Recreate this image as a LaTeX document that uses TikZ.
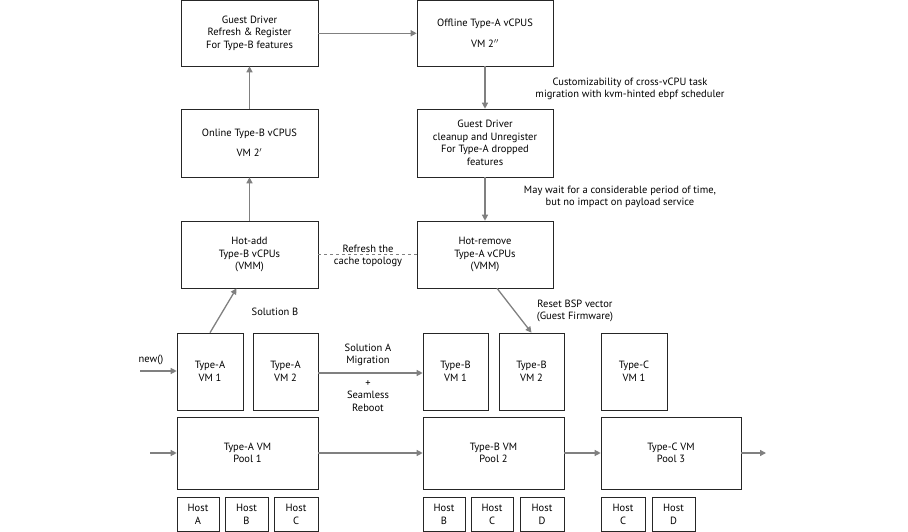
\documentclass[tikz,border=0pt]{standalone}
\usepackage{fontspec}
\setmainfont{PT Sans}
\usetikzlibrary{arrows.meta}
\begin{document}
\begin{tikzpicture}[x=1pt,y=-1pt,
  box/.style={draw=black!85,line width=0.6pt,align=center,font=\fontsize{10.5}{12.5}\selectfont,inner sep=1pt},
  arr/.style={draw=black!50,line width=1.3pt,-{Triangle[length=6pt,width=6pt]}},
  lab/.style={align=center,font=\fontsize{10.5}{12.5}\selectfont,inner sep=0pt}]
\useasboundingbox (0,0) rectangle (908,532);
\newcommand{\bx}[6]{\node[box,minimum width=#4-#2,minimum height=#5-#3] (#1) at ({(#2+#4)/2},{(#3+#5)/2}) {#6};}
\bx{gdr}{181}{0.5}{318}{66}{Guest Driver\\Refresh \& Register\\For Type-B features}
\bx{off}{417}{0.5}{553}{66}{Offline Type-A vCPUS\\[8pt]VM 2$''$}
\bx{onl}{181}{109}{318}{177}{Online Type-B vCPUS\\[8pt]VM 2$'$}
\bx{gdc}{417}{109}{553}{177}{Guest Driver\\cleanup and Unregister\\For Type-A dropped\\features}
\bx{add}{181}{221}{318}{288}{Hot-add\\Type-B vCPUs\\(VMM)}
\bx{rem}{417}{221}{553}{288}{Hot-remove\\Type-A vCPUs\\(VMM)}
\bx{a1}{177}{333}{243}{410}{Type-A\\VM 1}
\bx{a2}{253}{333}{318}{410}{Type-A\\VM 2}
\bx{b1}{423}{333}{488}{410}{Type-B\\VM 1}
\bx{b2}{499}{333}{564}{410}{Type-B\\VM 2}
\bx{c1}{601}{333}{667}{410}{Type-C\\VM 1}
\bx{p1}{177}{417}{318}{489}{Type-A VM\\Pool 1}
\bx{p2}{423}{417}{564}{489}{Type-B VM\\Pool 2}
\bx{p3}{601}{417}{741}{489}{Type-C VM\\Pool 3}
\bx{ha}{177}{497}{219}{531.5}{Host\\A}
\bx{hb}{225}{497}{268}{531.5}{Host\\B}
\bx{hc}{274}{497}{318}{531.5}{Host\\C}
\bx{hb2}{423}{497}{465}{531.5}{Host\\B}
\bx{hc2}{471}{497}{513}{531.5}{Host\\C}
\bx{hd2}{520}{497}{564}{531.5}{Host\\D}
\bx{hc3}{601}{497}{645}{531.5}{Host\\C}
\bx{hd3}{652}{497}{695}{531.5}{Host\\D}
\draw[arr] (gdr) -- (off);
\draw[arr] (off) -- (gdc);
\draw[arr] (gdc) -- (rem);
\draw[arr] (add) -- (onl);
\draw[arr] (onl) -- (gdr);
\draw[black!50,line width=1pt,dashed] (add) -- (rem);
\node[lab] at (368,256) {Refresh the\\cache topology};
\node[lab] at (630,89) {Customizability of cross-vCPU task\\migration with kvm-hinted ebpf scheduler};
\node[lab] at (620,197) {May wait for a considerable period of time,\\but no impact on payload service};
\draw[arr] ([xshift=12pt]rem.south) -- (b2.north);
\node[lab] at (575,311) {Reset BSP vector\\(Guest Firmware)};
\draw[arr] (a1.north) -- ([xshift=-13pt]add.south);
\node[lab] at (275,312) {Solution B};
\coordinate (nw) at (140,371);
\draw[arr] (nw) -- (nw-|a1.west);
\node[lab] at (151,360) {new()};
\draw[arr] (a2.east|-0,373) -- (b1.west|-0,373);
\node[lab] at (368,355) {Solution A\\Migration};
\node[lab] at (368,396) {+\\Seamless\\Reboot};
\coordinate (pin) at (150,453);
\coordinate (pout) at (766,453);
\draw[arr] (pin) -- (p1);
\draw[arr] (p1) -- (p2);
\draw[arr] (p2) -- (p3);
\draw[arr] (p3) -- (pout);
\end{tikzpicture}
\end{document}
